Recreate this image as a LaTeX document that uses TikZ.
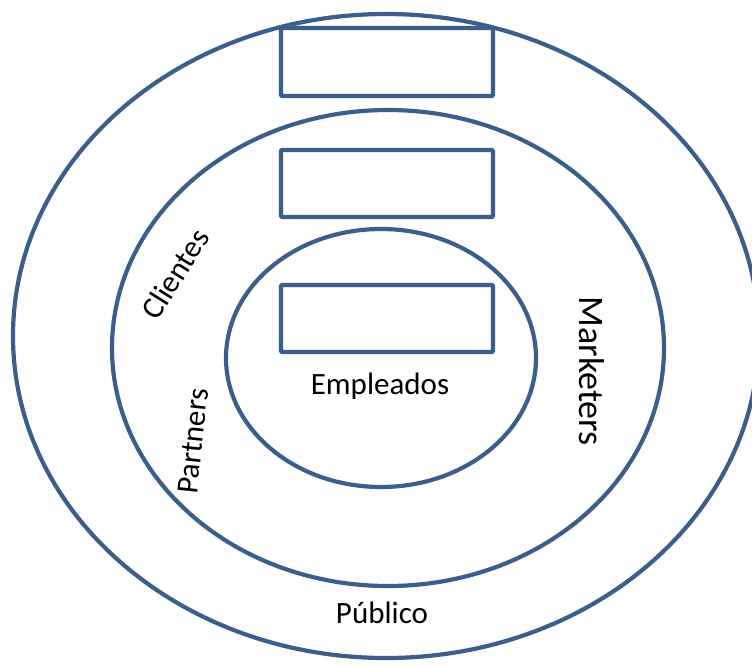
\documentclass[tikz,border=0pt]{standalone}
\usepackage{fontspec}
\setmainfont{Carlito}
\usetikzlibrary{shapes.geometric}
\definecolor{ring}{HTML}{3A5F8B}
\begin{document}
\begin{tikzpicture}[x=1pt,y=-1pt,
  ringstyle/.style={ellipse, draw=ring, line width=4.2pt, inner sep=0pt},
  boxstyle/.style={rectangle, draw=ring, fill=white, line width=4.2pt, inner sep=0pt, rounded corners=1pt},
  lbl/.style={font=\fontsize{31}{31}\selectfont, inner sep=0pt}]
\useasboundingbox (0,0) rectangle (752,665);
\node[ringstyle, minimum width=746pt, minimum height=644pt] (outer) at (386,336) {};
\node[ringstyle, minimum width=552pt, minimum height=476pt] (middle) at (388,348) {};
\node[ringstyle, minimum width=310pt, minimum height=258pt] (inner) at (381,358) {};
\node[boxstyle, minimum width=212pt, minimum height=68pt] (box1) at (387,62) {};
\node[boxstyle, minimum width=212pt, minimum height=67pt] (box2) at (387,183.5) {};
\node[boxstyle, minimum width=212pt, minimum height=67pt] (box3) at (387,318.5) {};
\node[lbl, anchor=base] (emp) at (380,394) {Empleados};
\node[lbl, anchor=base] (pub) at (382,623) {Público};
\node[lbl, font=\fontsize{36}{36}\selectfont, anchor=base, rotate=-90] (mkt) at (579,371) {Marketers};
\node[lbl, rotate=58] (cli) at (175,274) {Clientes};
\node[lbl, rotate=84] (par) at (193,441) {Partners};
\end{tikzpicture}
\end{document}
